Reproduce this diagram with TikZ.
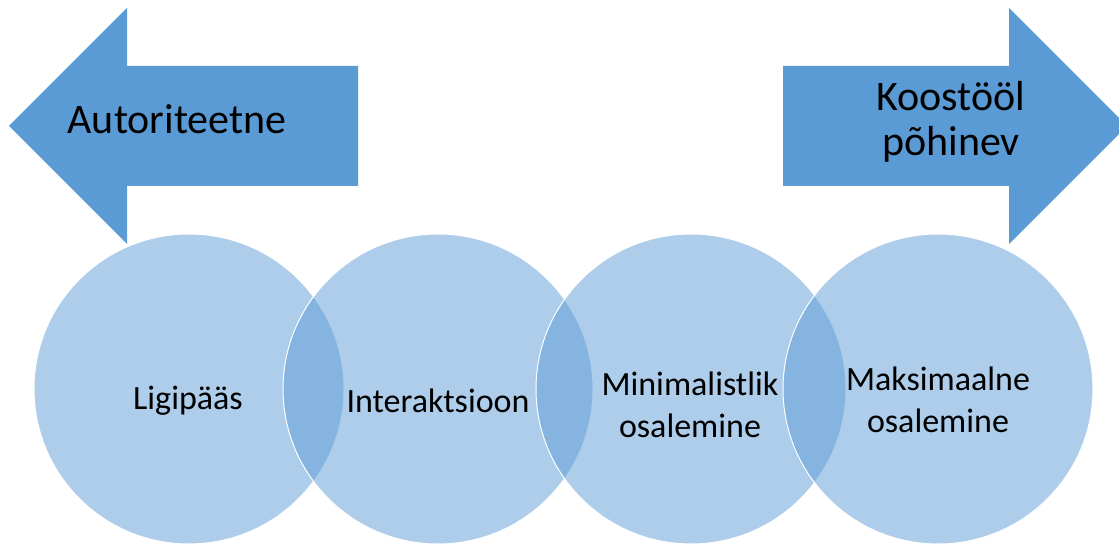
\documentclass[tikz,border=0pt]{standalone}
\usepackage{fontspec}
\setmainfont{Carlito}
\usetikzlibrary{positioning}
\definecolor{arrowblue}{RGB}{91,155,213}

\begin{document}
\begin{tikzpicture}[
    x=0.5pt, y=-0.5pt,
    bubble/.style={circle, minimum size=155pt, inner sep=0pt, fill=arrowblue, fill opacity=0.5, draw=white, line width=0.5pt},
    lbl/.style={font=\fontsize{17}{21}\selectfont, align=center, text=black, inner sep=0pt},
    arrowlbl/.style={font=\fontsize{21}{22.5}\selectfont, align=center, text=black, inner sep=0pt},
]

% Frame
\useasboundingbox (0,0) rectangle (1119,544);
\clip (0,0) rectangle (1119,544);

% Left arrow
\fill[arrowblue] (9,126) -- (127,8) -- (127,66) -- (358,66) -- (358,186)
    -- (127,186) -- (127,244) -- cycle;
\node[arrowlbl] (auth) at (177,119) {Autoriteetne};

% Right arrow
\fill[arrowblue] (783,66) -- (1009,66) -- (1009,8) -- (1127,126) -- (1009,244)
    -- (1009,186) -- (783,186) -- cycle;
\node[arrowlbl] (coop) at (951,122) {Koostööl\\põhinev};

% Circles
\node[bubble] (c1) at (189,389) {};
\node[bubble] (c2) at (438,389) {};
\node[bubble] (c3) at (691,389) {};
\node[bubble] (c4) at (938,389) {};

% Circle labels
\node[lbl] (t1) at (188,401) {Ligipääs};
\node[lbl] (t2) at (438,401) {Interaktsioon};
\node[lbl] (t3) at (690,405) {Minimalistlik\\osalemine};
\node[lbl] (t4) at (938,400) {Maksimaalne\\osalemine};

\end{tikzpicture}
\end{document}
